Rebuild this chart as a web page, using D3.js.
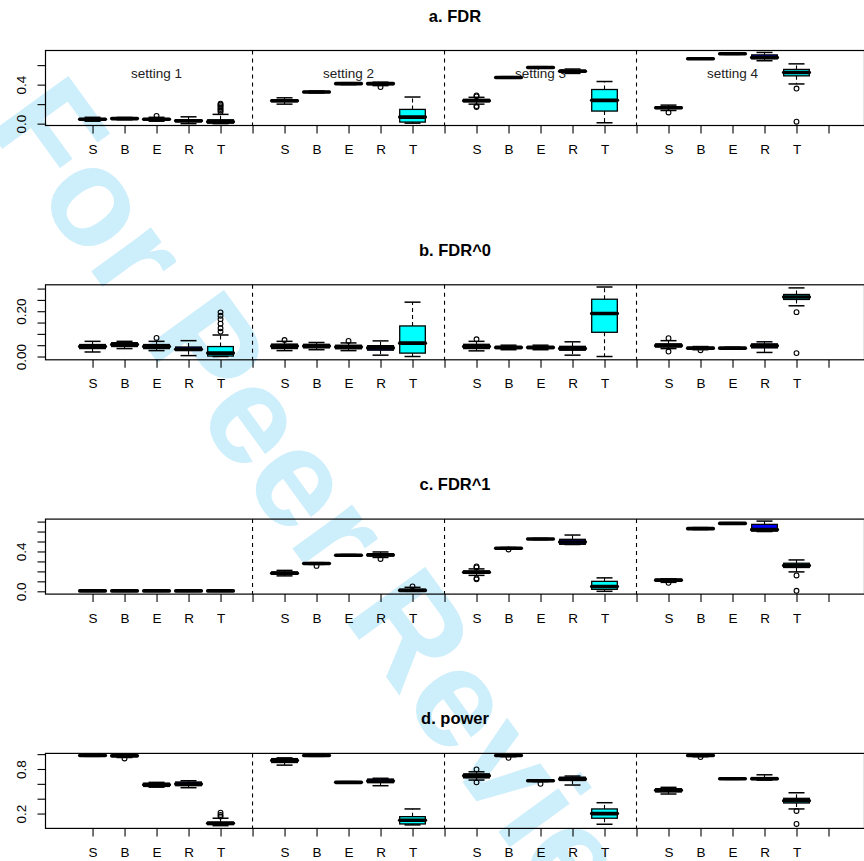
<!DOCTYPE html>
<html><head><meta charset="utf-8">
<script src="https://cdn.jsdelivr.net/npm/d3@7"></script>
<style>
body{margin:0;background:#fff}
svg{display:block}
text{font-family:"Liberation Sans",Arial,Helvetica,sans-serif}
</style>
</head><body>
<svg id="chart" width="864" height="861"></svg>
<script>
// ---------------- DATA ----------------
const methods = ["S", "B", "E", "R", "T"];
const settings = ["setting 1", "setting 2", "setting 3", "setting 4"];
const panelTitles = ["a. FDR", "b. FDR^0", "c. FDR^1", "d. power"];
const methodFill = ["black", "black", "black", "blue", "cyan"];

// five-number summaries [lower whisker, q1, median, q3, upper whisker]
// order: setting1 S,B,E,R,T, setting2 S..T, setting3 ..., setting4 ...
const fdrStats = [
  [0.025,0.038,0.045,0.052,0.065],[0.040,0.048,0.052,0.056,0.064],[0.025,0.038,0.045,0.052,0.065],[0.000,0.018,0.030,0.040,0.070],[0.000,0.005,0.020,0.040,0.095],
  [0.200,0.225,0.235,0.245,0.265],[0.315,0.320,0.325,0.330,0.335],[0.400,0.405,0.410,0.415,0.420],[0.390,0.400,0.410,0.415,0.425],[0.005,0.016,0.067,0.146,0.273],
  [0.200,0.225,0.235,0.250,0.270],[0.465,0.470,0.473,0.478,0.482],[0.568,0.572,0.576,0.580,0.584],[0.515,0.530,0.538,0.548,0.560],[0.009,0.129,0.239,0.350,0.432],
  [0.135,0.155,0.163,0.172,0.190],[0.660,0.662,0.665,0.668,0.670],[0.710,0.713,0.716,0.719,0.722],[0.645,0.665,0.678,0.705,0.730],[0.407,0.490,0.525,0.556,0.613]
];
const fdrOutliers = [
  [],[],[0.080],[],[0.12,0.135,0.15,0.165,0.18,0.195,0.205],
  [],[],[],[0.375],[],
  [0.28,0.29,0.18,0.17],[],[],[],[],
  [0.115],[],[],[],[0.36,0.02]
];

const fdr0Stats = [
  [0.020,0.035,0.044,0.053,0.067],[0.035,0.044,0.053,0.061,0.067],[0.026,0.035,0.044,0.053,0.067],[0.004,0.026,0.032,0.042,0.070],[0.000,0.002,0.015,0.044,0.095],
  [0.026,0.035,0.046,0.055,0.067],[0.030,0.038,0.046,0.054,0.062],[0.026,0.034,0.042,0.050,0.060],[0.006,0.028,0.038,0.048,0.069],[0.000,0.015,0.059,0.135,0.240],
  [0.025,0.035,0.044,0.054,0.067],[0.030,0.035,0.040,0.045,0.050],[0.030,0.035,0.040,0.045,0.050],[0.006,0.028,0.035,0.045,0.065],[0.000,0.107,0.190,0.253,0.307],
  [0.035,0.042,0.048,0.056,0.070],[0.030,0.034,0.037,0.040,0.044],[0.032,0.035,0.037,0.039,0.041],[0.018,0.038,0.047,0.056,0.065],[0.224,0.252,0.263,0.274,0.303]
];
const fdr0Outliers = [
  [],[],[0.082],[],[0.11,0.125,0.145,0.165,0.18,0.195],
  [0.073],[],[0.069],[],[],
  [0.076],[],[],[],[],
  [0.081,0.022],[0.028],[],[],[0.196,0.015]
];

const fdr1Stats = [
  [0.000,0.002,0.004,0.006,0.010],[0.000,0.002,0.004,0.006,0.010],[0.000,0.002,0.004,0.006,0.010],[0.000,0.002,0.004,0.006,0.010],[0.000,0.002,0.004,0.006,0.010],
  [0.155,0.170,0.182,0.195,0.210],[0.270,0.275,0.279,0.283,0.288],[0.355,0.359,0.362,0.366,0.370],[0.340,0.355,0.365,0.378,0.395],[0.000,0.002,0.009,0.020,0.040],
  [0.160,0.180,0.192,0.205,0.225],[0.425,0.428,0.432,0.436,0.440],[0.518,0.522,0.525,0.528,0.532],[0.470,0.472,0.495,0.522,0.565],[0.000,0.020,0.048,0.100,0.135],
  [0.090,0.105,0.112,0.120,0.125],[0.620,0.625,0.629,0.633,0.640],[0.675,0.679,0.682,0.685,0.689],[0.600,0.605,0.619,0.672,0.705],[0.195,0.239,0.259,0.282,0.315]
];
const fdr1Outliers = [
  [],[],[],[],[],
  [],[0.255],[],[0.325],[0.05],
  [0.24,0.25,0.13,0.12],[0.42],[],[],[],
  [0.085],[],[],[],[0.159,0.005]
];

const powerStats = [
  [0.970,0.977,0.982,0.986,0.990],[0.955,0.970,0.977,0.982,0.990],[0.555,0.565,0.588,0.610,0.620],[0.548,0.575,0.597,0.625,0.642],[0.037,0.050,0.070,0.085,0.137],
  [0.852,0.887,0.915,0.940,0.950],[0.970,0.977,0.982,0.986,0.990],[0.610,0.615,0.620,0.625,0.630],[0.575,0.615,0.637,0.665,0.675],[0.047,0.060,0.110,0.158,0.262],
  [0.651,0.680,0.709,0.735,0.762],[0.965,0.975,0.982,0.987,0.990],[0.630,0.637,0.642,0.647,0.652],[0.584,0.645,0.664,0.690,0.705],[0.056,0.137,0.199,0.262,0.346],
  [0.463,0.490,0.513,0.535,0.553],[0.965,0.975,0.982,0.987,0.990],[0.660,0.664,0.668,0.672,0.676],[0.650,0.658,0.668,0.685,0.722],[0.262,0.342,0.373,0.405,0.480]
];
const powerOutliers = [
  [],[0.942],[],[],[0.16,0.181,0.212],
  [],[],[],[],[],
  [0.795,0.62],[0.95],[0.60],[],[],
  [],[0.96],[],[],[0.235,0.06]
];

const yTickValues = [
  [0, 0.2, 0.4, 0.6],
  [0, 0.05, 0.10, 0.15, 0.20, 0.25, 0.30],
  [0, 0.1, 0.2, 0.3, 0.4, 0.5, 0.6, 0.7],
  [0.2, 0.4, 0.6, 0.8, 1.0]
];
const yTickLabels = [
  ["0.0", "", "0.4", ""],
  ["0.00", "", "", "", "0.20", "", ""],
  ["0.0", "", "", "", "0.4", "", "", ""],
  ["0.2", "", "", "0.8", ""]
];
const yDomains = [[-0.019, 0.750], [-0.0145, 0.3167], [-0.028, 0.725], [0.0, 1.01]];

const allStats = [fdrStats, fdr0Stats, fdr1Stats, powerStats];
const allOutliers = [fdrOutliers, fdr0Outliers, fdr1Outliers, powerOutliers];

// ---------------- LAYOUT ----------------
const W = 864, H = 861;
const plotLeft = 45.5, plotRight = 864.5;
const panelTop0 = 50.5, panelStep = 234.3, panelH = 75;
const svg = d3.select("#chart");
svg.append("rect").attr("width", W).attr("height", H).attr("fill", "white");

// watermark (drawn beneath)
svg.append("text")
  .attr("transform", "translate(-15,125) rotate(54)")
  .attr("font-size", 140).attr("font-weight", "bold")
  .attr("fill", "#cdeefb")
  .text("For Peer Review");

const x = d3.scaleLinear().domain([-0.47, 25.125]).range([plotLeft, plotRight]);
const xTickVals = d3.range(1, 25);
const halfBox = x(0.4) - x(0);
const halfStaple = 8;

panelTitles.forEach((title, p) => {
  const top = panelTop0 + p * panelStep;
  const bottom = top + panelH;
  const y = d3.scaleLinear().domain(yDomains[p]).range([bottom, top]);
  const g = svg.append("g");

  g.append("text").attr("x", (plotLeft + plotRight) / 2).attr("y", top - 29)
    .attr("text-anchor", "middle").attr("font-weight", "bold").attr("font-size", 16.5)
    .text(title);

  if (p === 0) {
    settings.forEach((s, k) => {
      g.append("text").attr("x", x(3 + 6 * k)).attr("y", top + 27)
        .attr("text-anchor", "middle").attr("font-size", 13.5).attr("fill", "#222").text(s);
    });
  }

  // separators
  [6, 12, 18].forEach(v => {
    g.append("line").attr("x1", x(v)).attr("x2", x(v)).attr("y1", top).attr("y2", bottom)
      .attr("stroke", "black").attr("stroke-width", 1.1).attr("stroke-dasharray", "4,4");
  });

  // axes
  const xAxis = d3.axisBottom(x).tickValues(xTickVals)
    .tickFormat(d => (d % 6 === 0 ? "" : methods[(d - 1) % 6]))
    .tickSize(8).tickSizeOuter(0).tickPadding(11);
  const xg = g.append("g").attr("transform", `translate(0,${bottom})`).call(xAxis);
  xg.select(".domain").remove();
  xg.selectAll("line").attr("stroke-width", 1.1);
  xg.selectAll("text").attr("font-size", 13.5).attr("fill", "black")
    .attr("font-family", "'Liberation Sans',Arial,sans-serif");

  const yAxis = d3.axisLeft(y).tickValues(yTickValues[p])
    .tickFormat((d, i) => yTickLabels[p][i]).tickSize(8).tickSizeOuter(0);
  const yg = g.append("g").attr("transform", `translate(${plotLeft},0)`).call(yAxis);
  yg.select(".domain").remove();
  yg.selectAll("line").attr("stroke-width", 1.1);
  yg.selectAll("text").attr("transform", "rotate(-90)").attr("x", 0).attr("y", -19.5)
    .attr("dy", 0).attr("text-anchor", "middle").attr("font-size", 13.5).attr("fill", "black")
    .attr("font-family", "'Liberation Sans',Arial,sans-serif");

  // boxes
  const stats = allStats[p], outs = allOutliers[p];
  stats.forEach((st, j) => {
    const s = Math.floor(j / 5), m = j % 5;
    const pos = s * 6 + m + 1;
    const cx = x(pos);
    const [lo, q1, med, q3, hi] = st;
    const bg = g.append("g");
    bg.append("rect").attr("x", cx - halfBox).attr("width", 2 * halfBox)
      .attr("y", y(q3)).attr("height", Math.max(0.1, y(q1) - y(q3)))
      .attr("fill", methodFill[m]).attr("stroke", "black").attr("stroke-width", 1.3);
    bg.append("line").attr("x1", cx - halfBox).attr("x2", cx + halfBox)
      .attr("y1", y(med)).attr("y2", y(med))
      .attr("stroke", "black").attr("stroke-width", 3.6).attr("stroke-linecap", "round");
    bg.append("line").attr("x1", cx).attr("x2", cx).attr("y1", y(q3)).attr("y2", y(hi))
      .attr("stroke", "black").attr("stroke-width", 1.1).attr("stroke-dasharray", "4,3");
    bg.append("line").attr("x1", cx).attr("x2", cx).attr("y1", y(q1)).attr("y2", y(lo))
      .attr("stroke", "black").attr("stroke-width", 1.1).attr("stroke-dasharray", "4,3");
    [hi, lo].forEach(v => {
      bg.append("line").attr("x1", cx - halfStaple).attr("x2", cx + halfStaple)
        .attr("y1", y(v)).attr("y2", y(v)).attr("stroke", "black").attr("stroke-width", 1.5);
    });
    outs[j].forEach(v => {
      bg.append("circle").attr("cx", cx).attr("cy", y(v)).attr("r", 2.4)
        .attr("fill", "none").attr("stroke", "black").attr("stroke-width", 1.1);
    });
  });

  // frame
  g.append("rect").attr("x", plotLeft).attr("y", top).attr("width", plotRight - plotLeft)
    .attr("height", panelH).attr("fill", "none").attr("stroke", "black").attr("stroke-width", 1.2);
});
</script>
</body></html>
